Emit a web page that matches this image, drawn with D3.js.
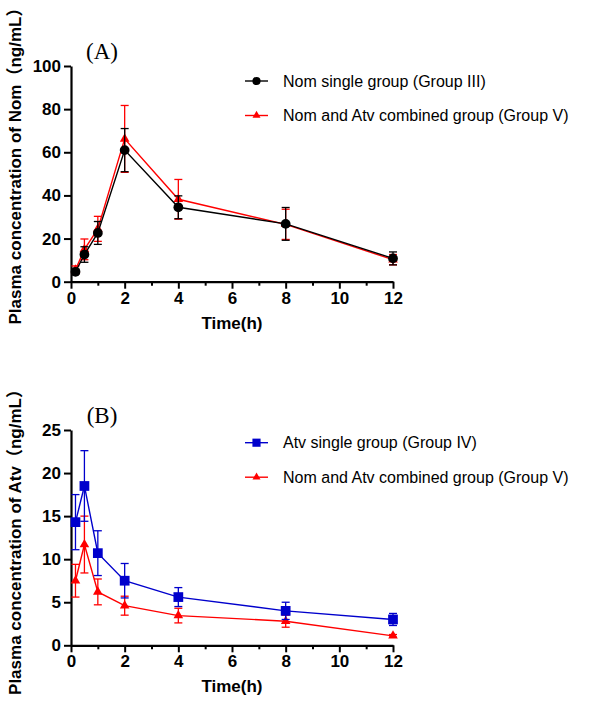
<!DOCTYPE html>
<html>
<head>
<meta charset="utf-8">
<script src="https://cdn.jsdelivr.net/npm/d3@7"></script>
<style>
  body { margin: 0; background: #fff; }
  svg { display: block; font-family: "Liberation Sans", Arial, "Noto Sans CJK SC", sans-serif; }
</style>
</head>
<body>
<div id="chart"></div>
<script>
// sampling times (h)
const times = [0.167, 0.5, 1, 2, 4, 8, 12];

// panel A - Nom (ng/mL)
const nomSingle = [4.6, 12.6, 22.6, 61.0, 34.5, 26.8, 10.8];
const nomSingleSd = [1.0, 3.6, 5.3, 10.0, 5.3, 7.6, 3.0];
const nomCombined = [5.5, 15.0, 24.5, 66.2, 38.2, 26.6, 10.2];
const nomCombinedSd = [1.8, 4.8, 5.8, 15.5, 9.2, 7.0, 2.4];

// panel B - Atv (ng/mL)
const atvSingle = [14.3, 18.5, 10.7, 7.5, 5.6, 4.0, 3.0];
const atvSingleSd = [3.2, 4.1, 2.6, 2.0, 1.1, 1.0, 0.7];
const atvCombined = [7.5, 11.7, 6.2, 4.6, 3.45, 2.8, 1.1];
const atvCombinedSd = [1.9, 3.3, 1.5, 1.1, 0.85, 0.7, 0.15];

const xTicks = [0, 2, 4, 6, 8, 10, 12];
const xMinorTicks = [1, 3, 5, 7, 9, 11];
const yTicksA = [0, 20, 40, 60, 80, 100];
const yTicksB = [0, 5, 10, 15, 20, 25];

const legendA = ['Nom single group (Group III)', 'Nom and Atv combined group (Group V)'];
const legendB = ['Atv single group (Group IV)', 'Nom and Atv combined group (Group V)'];

const dimensions = { width: 594, height: 702 };

const svg = d3.select('#chart').append('svg')
  .attr('width', dimensions.width)
  .attr('height', dimensions.height);

// draws one panel: axes, titles, error bars, lines, markers and legend
function drawPanel(opts) {
  const xScale = d3.scaleLinear().domain([0, 12]).range([71, 393]);
  const yScale = d3.scaleLinear().domain(opts.yDomain).range([opts.bottom, opts.top]);
  const g = svg.append('g');

  // axes
  g.append('g')
    .attr('transform', `translate(0,${opts.bottom})`)
    .call(d3.axisBottom(xScale).tickValues(xTicks).tickSize(7).tickPadding(3).tickSizeOuter(0));
  g.append('g')
    .attr('transform', `translate(0,${opts.bottom})`)
    .call(d3.axisBottom(xScale).tickValues(xMinorTicks).tickSize(4).tickFormat('').tickSizeOuter(0))
    .select('.domain').remove();
  g.append('g')
    .attr('transform', 'translate(71,0)')
    .call(d3.axisLeft(yScale).tickValues(opts.yTicks).tickSize(7).tickPadding(3).tickSizeOuter(0));

  g.selectAll('.domain').attr('stroke', '#000').attr('stroke-width', 2.2);
  g.selectAll('.tick line').attr('stroke', '#000').attr('stroke-width', 2);
  g.selectAll('.tick text')
    .attr('font-size', '17px')
    .attr('font-weight', 'bold')
    .attr('fill', '#000')
    .attr('font-family', '"Liberation Sans", Arial, sans-serif');

  // axis titles
  g.append('text')
    .attr('x', 232)
    .attr('y', opts.bottom + 47)
    .attr('text-anchor', 'middle')
    .attr('font-size', '17px')
    .attr('font-weight', 'bold')
    .text('Time(h)');

  g.append('text')
    .attr('transform', `translate(21,${opts.labelY}) rotate(-90)`)
    .attr('text-anchor', 'middle')
    .attr('font-size', '17px')
    .attr('font-weight', 'bold')
    .text(opts.yLabel);

  g.append('text')
    .attr('x', 102)
    .attr('y', opts.top - 7)
    .attr('text-anchor', 'middle')
    .attr('font-family', '"Liberation Serif", "Times New Roman", serif')
    .attr('font-size', '23px')
    .text(opts.title);

  // series, in drawing order
  opts.series.forEach(s => {
    const sg = g.append('g');
    const pts = times.map((t, i) => ({ t, v: s.values[i], sd: s.sd[i] }));

    pts.forEach(p => {
      const x = xScale(p.t);
      const hi = p.v + p.sd;
      const lo = Math.max(0, p.v - p.sd);
      sg.append('line').attr('x1', x).attr('x2', x)
        .attr('y1', yScale(hi)).attr('y2', yScale(lo))
        .attr('stroke', s.color).attr('stroke-width', 1.3);
      [hi, lo].forEach(v => {
        sg.append('line').attr('x1', x - 4).attr('x2', x + 4)
          .attr('y1', yScale(v)).attr('y2', yScale(v))
          .attr('stroke', s.color).attr('stroke-width', 1.3);
      });
    });

    sg.append('path')
      .datum(pts)
      .attr('fill', 'none')
      .attr('stroke', s.color)
      .attr('stroke-width', 1.4)
      .attr('d', d3.line().x(d => xScale(d.t)).y(d => yScale(d.v)));

    sg.selectAll('.marker').data(pts).enter().append('path')
      .attr('class', 'marker')
      .attr('transform', d => `translate(${xScale(d.t)},${yScale(d.v)})`)
      .attr('d', d3.symbol().type(s.symbol).size(s.size))
      .attr('fill', s.color);

    // legend entry
    const ly = opts.legendY + s.legendIndex * 34.5;
    g.append('line').attr('x1', 245).attr('x2', 268).attr('y1', ly).attr('y2', ly)
      .attr('stroke', s.color).attr('stroke-width', 1.4);
    g.append('path')
      .attr('transform', `translate(256.5,${ly})`)
      .attr('d', d3.symbol().type(s.symbol).size(s.size * 0.7))
      .attr('fill', s.color);
    g.append('text')
      .attr('x', 283)
      .attr('y', ly + 5.5)
      .attr('font-size', '16px')
      .attr('font-family', '"Liberation Sans", Arial, sans-serif')
      .text(s.label);
  });
}

drawPanel({
  title: '(A)',
  top: 66, bottom: 281.7, labelY: 162,
  yDomain: [0, 100], yTicks: yTicksA,
  yLabel: 'Plasma concentration of Nom（ng/mL）',
  legendY: 81,
  series: [
    { label: legendA[1], legendIndex: 1, values: nomCombined, sd: nomCombinedSd, color: '#ff0000', symbol: d3.symbolTriangle, size: 40 },
    { label: legendA[0], legendIndex: 0, values: nomSingle, sd: nomSingleSd, color: '#000000', symbol: d3.symbolCircle, size: 75 }
  ]
});

drawPanel({
  title: '(B)',
  top: 430, bottom: 645.3, labelY: 538,
  yDomain: [0, 25], yTicks: yTicksB,
  yLabel: 'Plasma concentration of Atv（ng/mL）',
  legendY: 442.7,
  series: [
    { label: legendB[1], legendIndex: 1, values: atvCombined, sd: atvCombinedSd, color: '#ff0000', symbol: d3.symbolTriangle, size: 40 },
    { label: legendB[0], legendIndex: 0, values: atvSingle, sd: atvSingleSd, color: '#0000cc', symbol: d3.symbolSquare, size: 95 }
  ]
});
</script>
</body>
</html>
